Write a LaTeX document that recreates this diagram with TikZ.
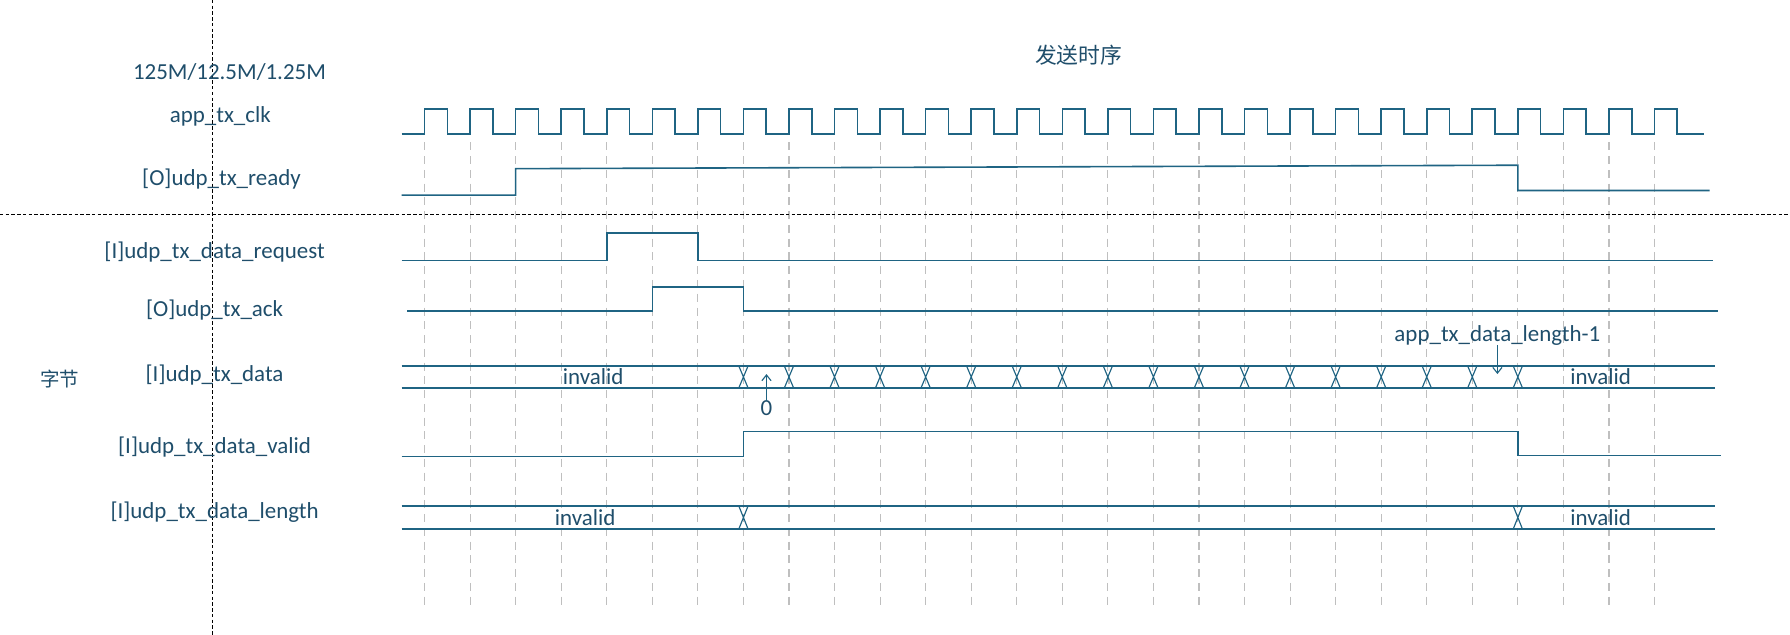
\documentclass[tikz,border=0pt]{standalone}
\usepackage{fontspec}
\usetikzlibrary{arrows.meta}
\setmainfont{Carlito}
\newfontfamily\cjk{Noto Sans CJK SC}
\definecolor{sig}{HTML}{1F6483}
\definecolor{txt}{HTML}{1F4E6B}
\begin{document}
\begin{tikzpicture}[x=1pt,y=-1pt,
  wave/.style={draw=sig,line width=1.4pt},
  grid/.style={draw=gray!50,dashed,line width=1pt,dash pattern=on 7pt off 5pt},
  lbl/.style={text=txt,font=\fontsize{20}{21}\selectfont,inner sep=0pt},
  guide/.style={draw=black,line width=0.6pt,dash pattern=on 3pt off 2pt}]
\useasboundingbox (0,0) rectangle (1560,553);
\def\G#1{370+39.7*#1}
% grid
\foreach \k in {0,...,27} \draw[grid] ({\G{\k}},124) -- ({\G{\k}},527);
% guides
\coordinate (gv1) at (185,0); \coordinate (gv2) at (185,553);
\coordinate (gh1) at (0,187); \coordinate (gh2) at (1560,187);
\draw[guide] (gv1) -- (gv2);
\draw[guide] (gh1) -- (gh2);
% texts
\node[lbl,font=\cjk\fontsize{19}{20}\selectfont] (title) at (940,48) {发送时序};
\node[lbl] (freq) at (200,63) {125M/12.5M/1.25M};
\node[lbl] (l1) at (192,101) {app\_tx\_clk};
\node[lbl] (l2) at (193,156) {[O]udp\_tx\_ready};
\node[lbl] (l3) at (187,220) {[I]udp\_tx\_data\_request};
\node[lbl] (l4) at (187,270) {[O]udp\_tx\_ack};
\node[lbl] (l5) at (187,327) {[I]udp\_tx\_data};
\node[lbl,font=\cjk\fontsize{17}{18}\selectfont] (zj) at (52,330) {字节};
\node[lbl] (l6) at (187,390) {[I]udp\_tx\_data\_valid};
\node[lbl] (l7) at (187,446) {[I]udp\_tx\_data\_length};
% clock
\draw[wave] (350,117) -- (370,117)
  \foreach \k in {0,...,27} { -- ({\G{\k}},117) -- ({\G{\k}},95) -- ({\G{\k}+19.85},95) -- ({\G{\k}+19.85},117) }
  -- (1485,117);
% ready
\draw[wave] (350,170) -- ({\G{2}},170) -- ({\G{2}},147) -- ({\G{24}},144) -- ({\G{24}},166) -- (1490,166);
% request
\draw[wave] (350,227) -- ({\G{4}},227) -- ({\G{4}},203) -- ({\G{6}},203) -- ({\G{6}},227) -- (1493,227);
% ack
\draw[wave] (355,271) -- ({\G{5}},271) -- ({\G{5}},250) -- ({\G{7}},250) -- ({\G{7}},271) -- (1497,271);
% data bus
\draw[wave] (350,319) -- (1495,319);
\draw[wave] (350,338) -- (1495,338);
\foreach \k in {7,...,24}
  \draw[wave,line width=1pt] ({\G{\k}-4},319) -- ({\G{\k}+4},338) ({\G{\k}-4},338) -- ({\G{\k}+4},319);
\node[lbl] (inv1) at (517,328) {invalid};
\node[lbl] (inv2) at (1395,328) {invalid};
\node[lbl] (zero) at (668,356) {0};
\coordinate (za) at (668,326);
\draw[draw=sig,line width=1pt,-{Straight Barb[length=5pt,width=8pt]}] (zero.north) -- (za);
\node[lbl] (lenm1) at (1305,292) {app\_tx\_data\_length-1};
\coordinate (la) at (1305,326);
\draw[draw=sig,line width=1pt,-{Straight Barb[length=5pt,width=8pt]}] (lenm1.south) -- (la);
% valid
\draw[wave] (350,398) -- ({\G{7}},398) -- ({\G{7}},376) -- ({\G{24}},376) -- ({\G{24}},397) -- (1500,397);
% length bus
\draw[wave] (350,441) -- (1495,441);
\draw[wave] (350,461) -- (1495,461);
\foreach \k in {7,24}
  \draw[wave,line width=1pt] ({\G{\k}-4},441) -- ({\G{\k}+4},461) ({\G{\k}-4},461) -- ({\G{\k}+4},441);
\node[lbl] (inv3) at (510,451) {invalid};
\node[lbl] (inv4) at (1395,451) {invalid};
\end{tikzpicture}
\end{document}
